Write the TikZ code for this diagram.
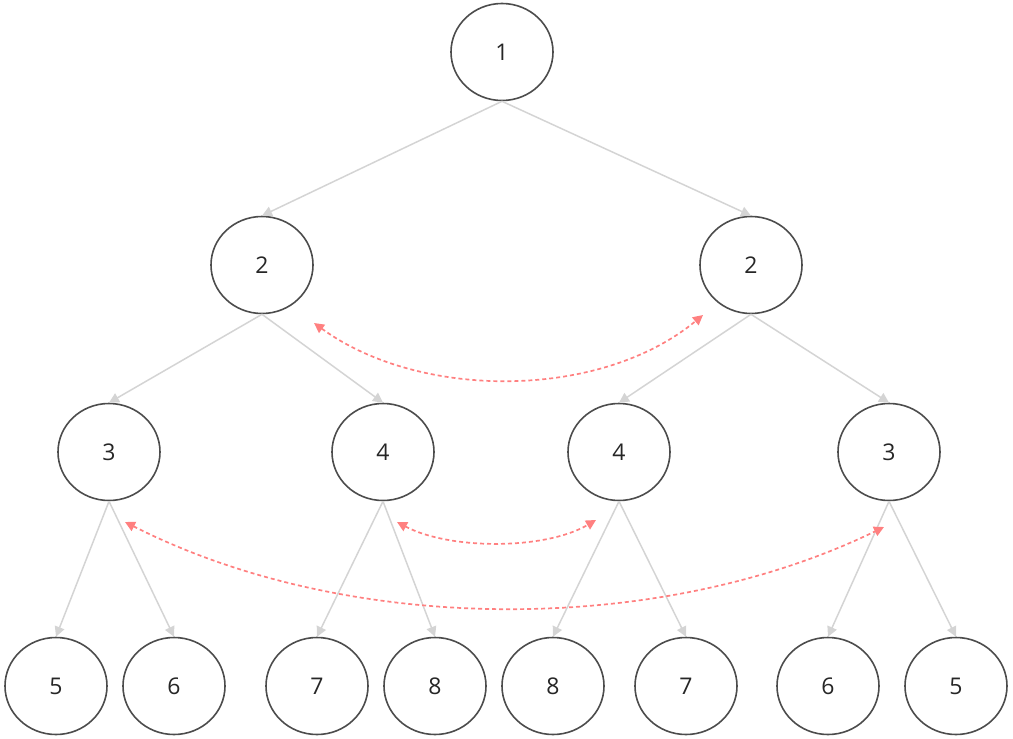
\documentclass[tikz,border=0pt]{standalone}
\usepackage{fontspec}
\setmainfont{Open Sans}
\usetikzlibrary{shapes.geometric,arrows.meta}
\begin{document}
\begin{tikzpicture}[x=1pt,y=-1pt,
  nd/.style={ellipse,draw=black!70,line width=1.6pt,minimum width=102pt,minimum height=97pt,inner sep=0pt,font=\fontsize{23}{27}\selectfont,text=black!85},
  ed/.style={draw=black!17,line width=1.5pt,-{Triangle[width=10pt,length=10pt]}},
  sw/.style={draw=red!50!white,line width=1.7pt,dash pattern=on 4pt off 3pt,{Triangle[width=10pt,length=10pt]}-{Triangle[width=10pt,length=10pt]}}]
\useasboundingbox (0,0) rectangle (1013,739);
\node[nd] (a) at (502,52) {1};
\node[nd] (b1) at (262,265) {2};
\node[nd] (b2) at (751,265) {2};
\node[nd] (c1) at (109,452) {3};
\node[nd] (c2) at (383,452) {4};
\node[nd] (c3) at (619,452) {4};
\node[nd] (c4) at (889,452) {3};
\node[nd] (d1) at (56,686) {5};
\node[nd] (d2) at (174,686) {6};
\node[nd] (d3) at (317,686) {7};
\node[nd] (d4) at (435,686) {8};
\node[nd] (d5) at (553,686) {8};
\node[nd] (d6) at (686,686) {7};
\node[nd] (d7) at (828,686) {6};
\node[nd] (d8) at (956,686) {5};
\foreach \p/\c in {a/b1,a/b2,b1/c1,b1/c2,b2/c3,b2/c4,c1/d1,c1/d2,c2/d3,c2/d4,c3/d5,c3/d6,c4/d7,c4/d8}
  \draw[ed] (\p.south) -- (\c.north);
\coordinate (p1) at (314,323); \coordinate (q1) at (703,315);
\coordinate (p2) at (397,522); \coordinate (q2) at (596,520);
\coordinate (p3) at (125,522); \coordinate (q3) at (884,527);
\draw[sw] (p1) .. controls (420,400) and (600,400) .. (q1);
\draw[sw] (p2) .. controls (450,550) and (545,550) .. (q2);
\draw[sw] (p3) .. controls (350,636) and (660,636) .. (q3);
\end{tikzpicture}
\end{document}
